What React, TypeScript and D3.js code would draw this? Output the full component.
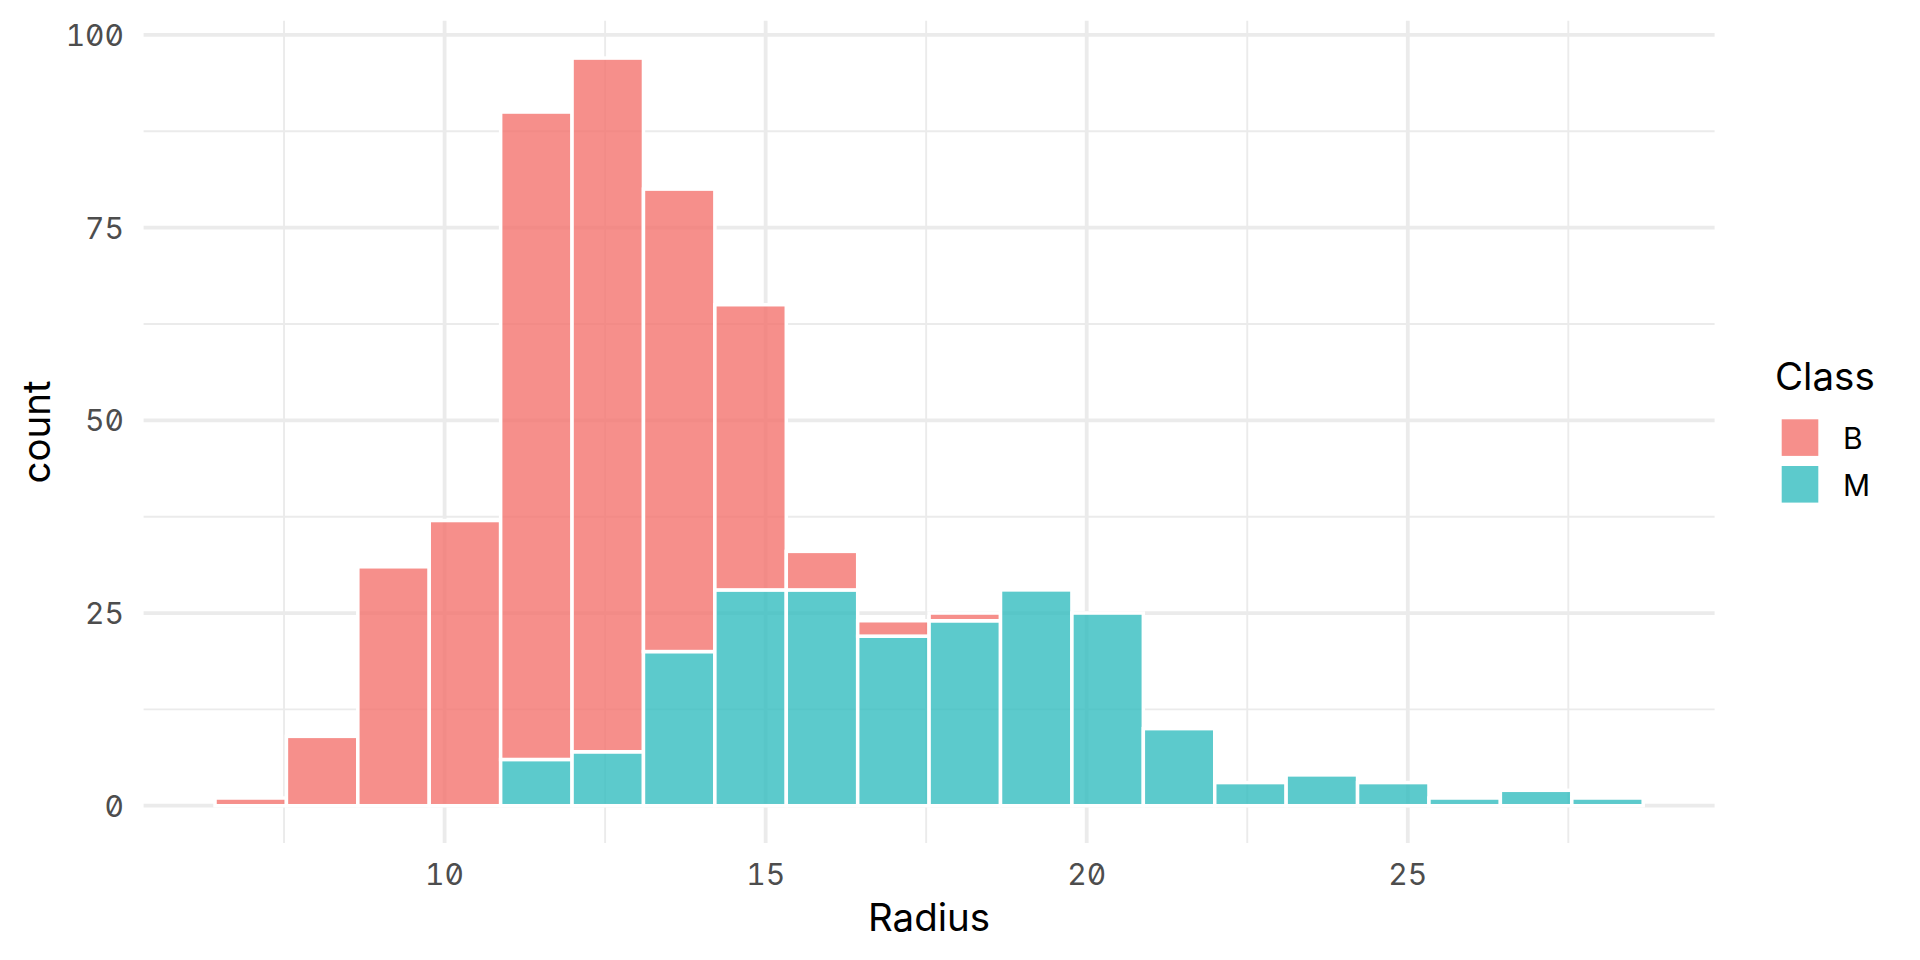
import React from "react";
import * as d3 from "d3";

// ---- data ----
const radiusMin = 6.981;
const radiusMax = 28.11;
const binCount = 20;
const countB = [1, 9, 31, 37, 84, 90, 60, 37, 5, 2, 1, 0, 0, 0, 0, 0, 0, 0, 0, 0];
const countM = [0, 0, 0, 0, 6, 7, 20, 28, 28, 22, 24, 28, 25, 10, 3, 4, 3, 1, 2, 1];
const classes = ["B", "M"];
const classColors = ["#F4736E", "#33BDBF"];
const xTicks = [10, 15, 20, 25];
const xMinor = [7.5, 12.5, 17.5, 22.5, 27.5];
const yTicks = [0, 25, 50, 75, 100];
const yMinor = [12.5, 37.5, 62.5, 87.5];
const xTitle = "Radius";
const yTitle = "count";
const legendTitle = "Class";

const W = 1920;
const H = 960;
const FONT = "Inter, 'Noto Sans', sans-serif";

export default function App() {
  // ggplot-style bins: width = range/(bins-1), boundary = min - width/2
  const binW = (radiusMax - radiusMin) / (binCount - 1);
  const x0 = radiusMin - binW / 2;
  const edges = d3.range(binCount + 1).map((i) => x0 + i * binW);
  const bins = d3.range(binCount).map((i) => ({
    lo: edges[i],
    hi: edges[i + 1],
    m: countM[i],
    b: countB[i],
  }));

  const xr = [edges[0], edges[binCount]];
  const xe = (xr[1] - xr[0]) * 0.05;
  const yMax = d3.max(bins, (d) => d.m + d.b) as number;
  const ye = yMax * 0.05;

  const x = d3.scaleLinear().domain([xr[0] - xe, xr[1] + xe]).range([143.6, 1714.6]);
  const y = d3.scaleLinear().domain([-ye, yMax + ye]).range([843.1, 20.7]);

  const [px0, px1] = x.range();
  const [py0, py1] = [y.range()[1], y.range()[0]];
  const grid = "#EBEBEB";

  const rects: any[] = [];
  bins.forEach((d, i) => {
    const stacks = [
      { cls: 1, lo: 0, hi: d.m },
      { cls: 0, lo: d.m, hi: d.m + d.b },
    ];
    stacks.forEach((s) => {
      if (s.hi - s.lo <= 0) return;
      rects.push(
        <rect
          key={`${i}-${s.cls}`}
          x={x(d.lo)}
          y={y(s.hi)}
          width={x(d.hi) - x(d.lo)}
          height={y(s.lo) - y(s.hi)}
          fill={classColors[s.cls]}
          fillOpacity={0.8}
          stroke="#FFFFFF"
          strokeWidth={3.5}
        />
      );
    });
  });

  const tickStyle: React.CSSProperties = {
    fontFamily: FONT,
    fontSize: 30,
    fill: "#4D4D4D",
    fontFeatureSettings: '"zero" 1, "tnum" 1',
  };

  return (
    <svg width={W} height={H} style={{ display: "block", position: "absolute", left: 0, top: 0 }}>
      <rect x={0} y={0} width={W} height={H} fill="#FFFFFF" />
      {/* minor grid */}
      {yMinor.map((v) => (
        <line key={`ym${v}`} x1={px0} x2={px1} y1={y(v)} y2={y(v)} stroke={grid} strokeWidth={1.9} />
      ))}
      {xMinor.map((v) => (
        <line key={`xm${v}`} x1={x(v)} x2={x(v)} y1={py0} y2={py1} stroke={grid} strokeWidth={1.9} />
      ))}
      {/* major grid */}
      {yTicks.map((v) => (
        <line key={`yM${v}`} x1={px0} x2={px1} y1={y(v)} y2={y(v)} stroke={grid} strokeWidth={3.8} />
      ))}
      {xTicks.map((v) => (
        <line key={`xM${v}`} x1={x(v)} x2={x(v)} y1={py0} y2={py1} stroke={grid} strokeWidth={3.8} />
      ))}
      {/* bars */}
      {rects}
      {/* tick labels */}
      {xTicks.map((v) => (
        <text key={`xt${v}`} x={x(v)} y={884.5} textAnchor="middle" style={tickStyle}>
          {String(v)}
        </text>
      ))}
      {yTicks.map((v) => (
        <text key={`yt${v}`} x={124} y={y(v) + 11} textAnchor="end" style={tickStyle}>
          {String(v)}
        </text>
      ))}
      {/* axis titles */}
      <text
        x={(px0 + px1) / 2}
        y={930.7}
        textAnchor="middle"
        style={{ fontFamily: FONT, fontSize: 38.5, fill: "#000000" }}
      >
        {xTitle}
      </text>
      <text
        transform={`translate(50,${(py0 + py1) / 2}) rotate(-90)`}
        textAnchor="middle"
        style={{ fontFamily: FONT, fontSize: 38.5, fill: "#000000" }}
      >
        {yTitle}
      </text>
      {/* legend */}
      <text x={1775} y={390} style={{ fontFamily: FONT, fontSize: 38.5, fill: "#000000" }}>
        {legendTitle}
      </text>
      {classes.map((c, i) => (
        <g key={c}>
          <rect
            x={1781.7}
            y={419.3 + i * 46.7}
            width={36.6}
            height={36.6}
            fill={classColors[i]}
            fillOpacity={0.8}
          />
          <text
            x={1843}
            y={449 + i * 46.5}
            style={{ fontFamily: FONT, fontSize: 30, fill: "#000000" }}
          >
            {c}
          </text>
        </g>
      ))}
    </svg>
  );
}
